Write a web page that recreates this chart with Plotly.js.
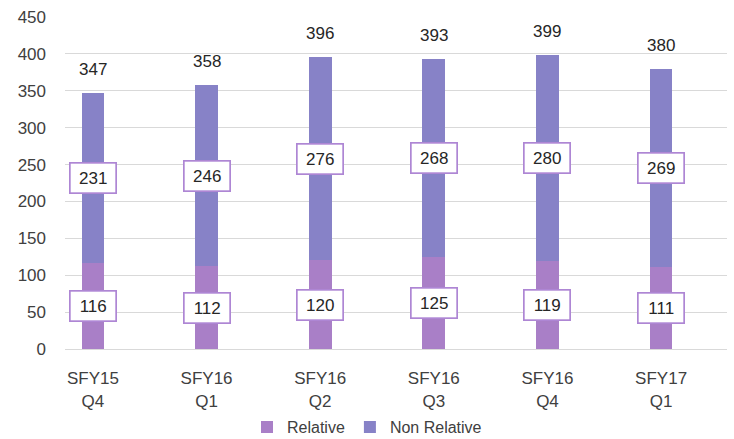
<!DOCTYPE html>
<html>
<head>
<meta charset="utf-8">
<script src="https://cdn.plot.ly/plotly-3.0.1.min.js"></script>
<style>html,body{margin:0;padding:0;background:#fff;}#chart{width:734px;height:439px;}</style>
</head>
<body>
<div id="chart"></div>
<script>
const categories = ["SFY15<br>Q4", "SFY16<br>Q1", "SFY16<br>Q2", "SFY16<br>Q3", "SFY16<br>Q4", "SFY17<br>Q1"];
const relative = [116, 112, 120, 125, 119, 111];
const nonRelative = [231, 246, 276, 268, 280, 269];
const totals = [347, 358, 396, 393, 399, 380];

const xs = categories.map((c, i) => i);
const FONT = "Liberation Sans, Arial, sans-serif";
const relColor = "#A97FC7";
const nonColor = "#8782C7";
const boxBorder = "#AE86D4";

const traces = [
  {type: "bar", name: "Relative", x: xs, y: relative, marker: {color: relColor}, width: 0.2, hoverinfo: "none"},
  {type: "bar", name: "Non Relative", x: xs, y: nonRelative, marker: {color: nonColor}, width: 0.2, hoverinfo: "none"}
];

const annotations = [];
xs.forEach((x, i) => {
  annotations.push({x: x, y: relative[i] / 2, xref: "x", yref: "y", text: String(relative[i]), showarrow: false,
    bgcolor: "#ffffff", bordercolor: boxBorder, borderwidth: 1.7, borderpad: 5, width: 35,
    font: {family: FONT, size: 17, color: "#262626"}});
  annotations.push({x: x, y: relative[i] + nonRelative[i] / 2, xref: "x", yref: "y", text: String(nonRelative[i]), showarrow: false,
    bgcolor: "#ffffff", bordercolor: boxBorder, borderwidth: 1.7, borderpad: 5, width: 35,
    font: {family: FONT, size: 17, color: "#262626"}});
  annotations.push({x: x, y: totals[i], xref: "x", yref: "y", text: String(totals[i]), showarrow: false,
    yanchor: "bottom", yshift: 12,
    font: {family: FONT, size: 17, color: "#262626"}});
});

const layout = {
  width: 734, height: 439,
  margin: {l: 65, r: 7, t: 17, b: 90, autoexpand: false},
  paper_bgcolor: "#ffffff", plot_bgcolor: "#ffffff",
  barmode: "stack",
  showlegend: true,
  legend: {orientation: "h", traceorder: "normal", xref: "container", yref: "container",
    x: 0.5, xanchor: "center", y: 0.027, yanchor: "middle",
    font: {family: FONT, size: 16, color: "#404040"}, itemwidth: 30},
  xaxis: {range: [-0.246, 5.58], tickvals: xs, ticktext: categories, showgrid: false, zeroline: false,
    showline: true, linecolor: "#D9D9D9", linewidth: 1, ticks: "", ticklabelstandoff: 14, automargin: false,
    tickfont: {family: FONT, size: 17, color: "#404040"}, fixedrange: true},
  yaxis: {range: [0, 450], dtick: 50, tick0: 0, showgrid: true, gridcolor: "#D9D9D9", gridwidth: 1,
    zeroline: false, showline: false, ticks: "", ticklabelstandoff: 18, automargin: false,
    tickfont: {family: FONT, size: 17, color: "#404040"}, fixedrange: true},
  annotations: annotations,
  font: {family: FONT}
};

Plotly.newPlot("chart", traces, layout, {staticPlot: true, displayModeBar: false});
</script>
</body>
</html>
